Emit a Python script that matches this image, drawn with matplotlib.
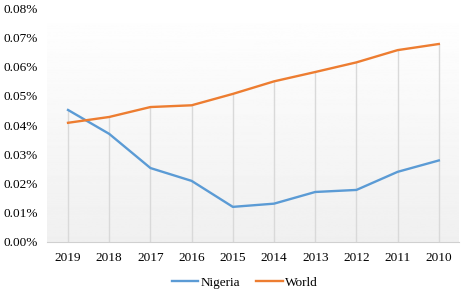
import numpy as np
import matplotlib.pyplot as plt

years = ['2019', '2018', '2017', '2016', '2015', '2014', '2013', '2012', '2011', '2010']
nigeria = [0.0452, 0.0370, 0.0253, 0.0209, 0.0120, 0.0131, 0.0171, 0.0178, 0.0240, 0.0279]
world = [0.0408, 0.0428, 0.0462, 0.0468, 0.0507, 0.0550, 0.0582, 0.0615, 0.0657, 0.0678]

plt.rcParams['font.family'] = ['Liberation Serif', 'DejaVu Serif']

fig = plt.figure(figsize=(4.65, 2.89), dpi=100)
ax = fig.add_axes([0.102, 0.163, 0.886, 0.808])

x = np.arange(len(years))
ax.set_xlim(-0.5, len(years) - 0.5)
ax.set_ylim(0, 0.08)

# fond degrade alb -> gri deschis
grad = np.linspace(1.0, 0.94, 256).reshape(-1, 1)
ax.imshow(grad, cmap='gray', vmin=0, vmax=1, aspect='auto',
          extent=[-0.5, len(years) - 0.5, 0, 0.08], zorder=0)

# linii verticale pana la seria cea mai mare
top = np.maximum(nigeria, world)
ax.vlines(x, 0, top, color='#d9d9d9', linewidth=1.0, zorder=1)

ax.plot(x, nigeria, color='#5b9bd5', linewidth=1.7, label='Nigeria', zorder=3)
ax.plot(x, world, color='#ed7d31', linewidth=1.7, label='World', zorder=3)

ax.set_xticks(x)
ax.set_xticklabels(years, fontsize=9.5)
yt = np.arange(0, 0.081, 0.01)
ax.set_yticks(yt)
ax.set_yticklabels(['%.2f%%' % v for v in yt], fontsize=9.5)
ax.tick_params(length=0)
ax.tick_params(axis='x', pad=7)
ax.tick_params(axis='y', pad=7)

for s in ['top', 'right', 'left']:
    ax.spines[s].set_visible(False)
ax.spines['bottom'].set_color('#d0d0d0')

fig.legend(loc='lower center', bbox_to_anchor=(0.527, -0.04), ncol=2,
           frameon=False, fontsize=9.5, handlelength=2.0, handletextpad=0.2,
           columnspacing=1.2)

fig.savefig('out.png', dpi=100)
